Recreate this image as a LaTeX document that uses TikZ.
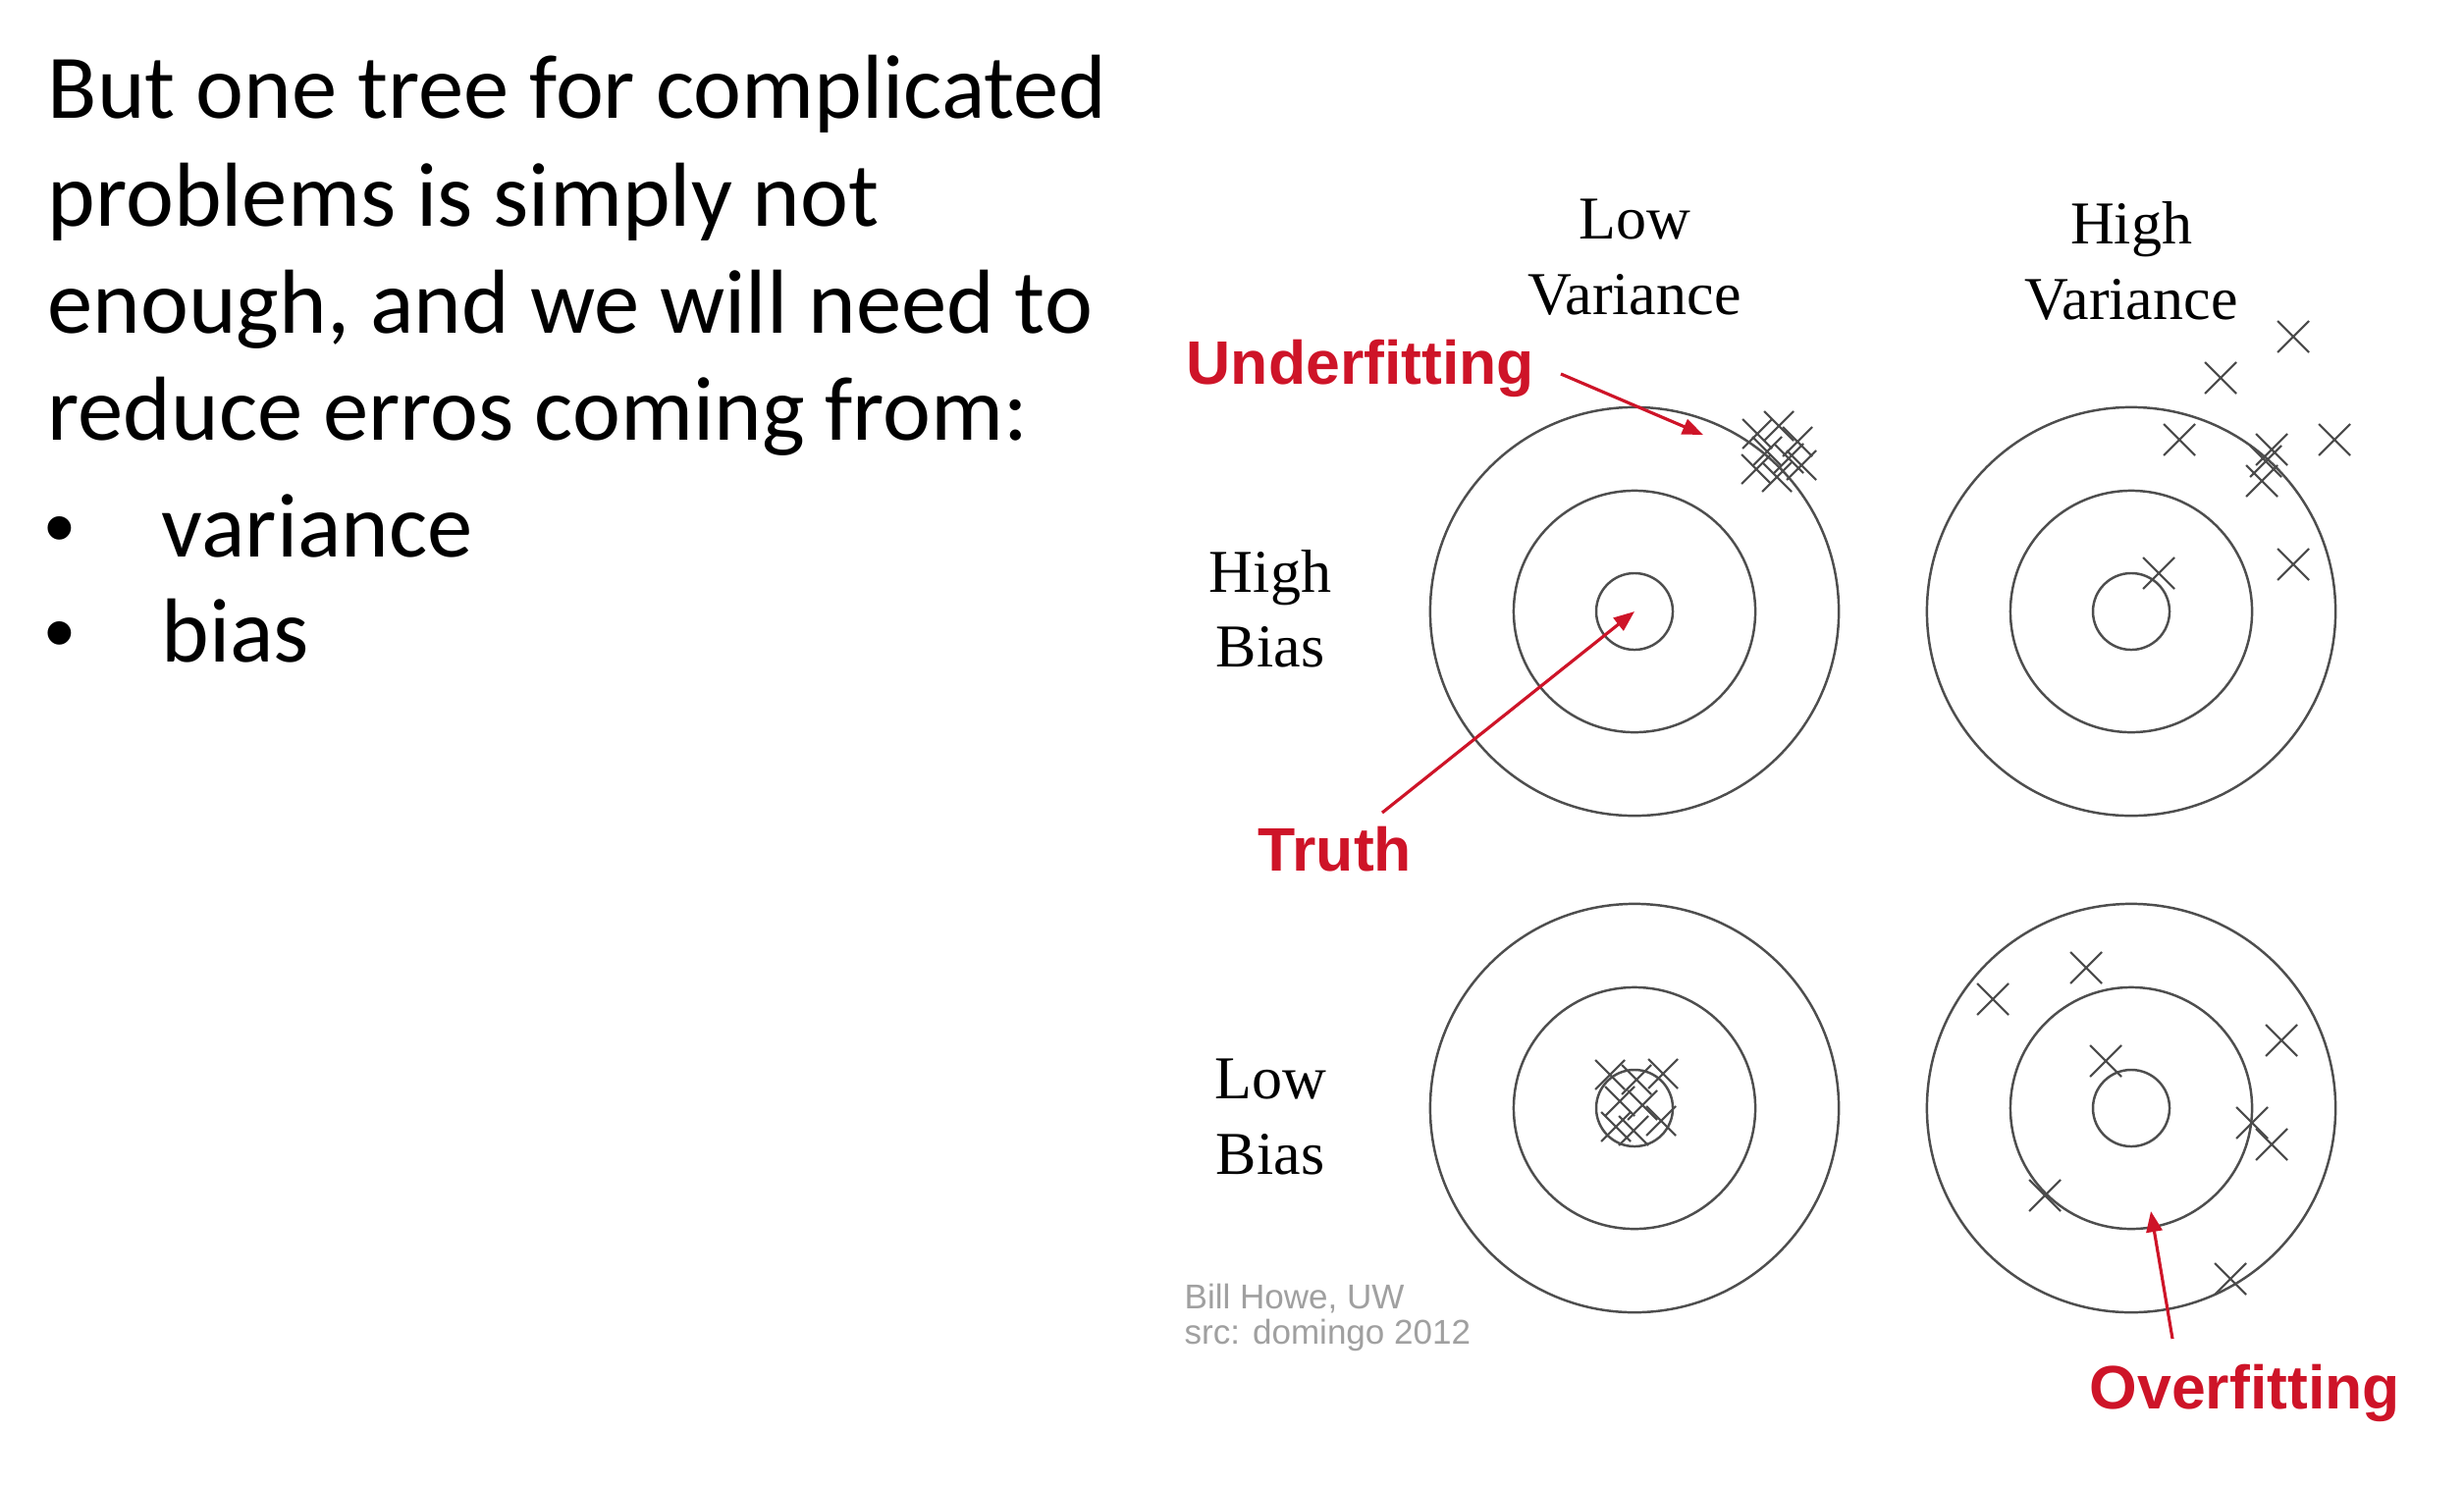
\documentclass[tikz,border=0pt]{standalone}
\usepackage{fontspec}
\setmainfont{Carlito}
\newfontfamily\serifface{Liberation Serif}
\newfontfamily\sansface{Liberation Sans}
\usetikzlibrary{arrows.meta}

\definecolor{lblred}{RGB}{206,20,40}
\definecolor{ringgray}{RGB}{78,78,78}
\definecolor{hitgray}{RGB}{75,75,75}
\definecolor{creditgray}{RGB}{160,160,160}

\begin{document}
\begin{tikzpicture}[x=0.01cm,y=-0.01cm,
  body/.style={anchor=base west,inner sep=0pt,font=\fontsize{26.35}{31}\selectfont},
  bulletmark/.style={anchor=base,inner sep=0pt,font=\sansface\fontsize{25}{31}\selectfont},
  axislabel/.style={anchor=base,inner sep=0pt,font=\serifface\fontsize{17.64}{21}\selectfont},
  callout/.style={anchor=base west,inner sep=0pt,text=lblred,font=\sansface\bfseries\fontsize{17.78}{21}\selectfont},
  credit/.style={anchor=base west,inner sep=0pt,text=creditgray,font=\sansface\fontsize{9.96}{12}\selectfont},
  ring/.style={circle,draw=ringgray,line width=0.7pt,inner sep=0pt},
  outerring/.style={ring,minimum size=4.16cm},
  midring/.style={ring,minimum size=2.46cm},
  innerring/.style={ring,minimum size=0.78cm},
  hitline/.style={draw=hitgray,line width=0.6pt},
  pointer/.style={draw=lblred,line width=0.9pt,-{Triangle[length=6pt,width=4.6pt]}},
  hit/.pic={\draw[hitline] (-16,-16)--(16,16) (-16,16)--(16,-16);},
  smallhit/.pic={\draw[hitline] (-15,-15)--(15,15) (-15,15)--(15,-15);}
]
% canvas
\fill[white] (0,0) rectangle (2510,1512);
\useasboundingbox (0,0) rectangle (2510,1512);

% ---- slide text ----
\node[body] (t1) at (48,120) {But one tree for complicated};
\node[body] (t2) at (48,230) {problems is simply not};
\node[body] (t3) at (48,339) {enough, and we will need to};
\node[body] (t4) at (48,448) {reduce erros coming from:};
\node[bulletmark] (b1) at (61,567) {•};
\node[body] (t5) at (164,567) {variance};
\node[bulletmark] (b2) at (61,674) {•};
\node[body] (t6) at (164,674) {bias};

% ---- column and row headings ----
\node[axislabel] (lowvar-a) at (1665,243) {Low};
\node[axislabel] (lowvar-b) at (1665,320) {Variance};
\node[axislabel] (highvar-a) at (2171,248) {High};
\node[axislabel] (highvar-b) at (2171,325) {Variance};
\node[axislabel] (highbias-a) at (1294,603) {High};
\node[axislabel] (highbias-b) at (1294,679) {Bias};
\node[axislabel] (lowbias-a) at (1294,1119) {Low};
\node[axislabel] (lowbias-b) at (1294,1196) {Bias};

% ---- four targets ----
\foreach \cx/\cy/\nm in {1665/623/hblv,2171/623/hbhv,1665/1129/lblv,2171/1129/lbhv}{
  \node[outerring] (\nm-outer) at (\cx,\cy) {};
  \node[midring]   (\nm-mid)   at (\cx,\cy) {};
  \node[innerring] (\nm-inner) at (\cx,\cy) {};
}

% high bias, low variance: tight cluster near the rim
\foreach \px/\py in {1790/442,1812/434,1831/450,1800/460,1822/467,1789/478,1810/486,1835/474}
  \pic at (\px,\py) {smallhit};

% high bias, high variance: scattered to the upper right
\foreach \px/\py in {2336/343,2262/385,2220/448,2314/458,2308/470,2304/490,2378/448,2336/575,2199/584}
  \pic at (\px,\py) {hit};

% low bias, low variance: tight cluster on the bullseye
\foreach \px/\py in {1640/1095,1667/1100,1694/1094,1650/1122,1673/1126,1692/1142,1646/1148,1664/1152}
  \pic at (\px,\py) {smallhit};

% low bias, high variance: spread around the bullseye
\foreach \px/\py in {2030/1018,2125/986,2145/1081,2324/1060,2294/1144,2314/1166,2083/1218,2272/1303}
  \pic at (\px,\py) {hit};

% ---- callouts ----
\node[callout] (under) at (1208,391) {Underfitting};
\node[callout] (truth) at (1281,887) {Truth};
\node[callout] (over)  at (2128,1435) {Overfitting};

\coordinate (under-tail) at (1590,381);
\coordinate (under-tip)  at (1735,443);
\coordinate (truth-tail) at (1408,828);
\coordinate (over-tail)  at (2213,1364);
\coordinate (over-tip)   at (2191,1234);

\draw[pointer] (under-tail) -- (under-tip);
\draw[pointer] (truth-tail) -- (hblv-inner.center);
\draw[pointer] (over-tail) -- (over-tip);

% ---- source note ----
\node[credit] (src1) at (1206,1333) {Bill Howe, UW};
\node[credit] (src2) at (1206,1369) {src: domingo 2012};
\end{tikzpicture}
\end{document}
